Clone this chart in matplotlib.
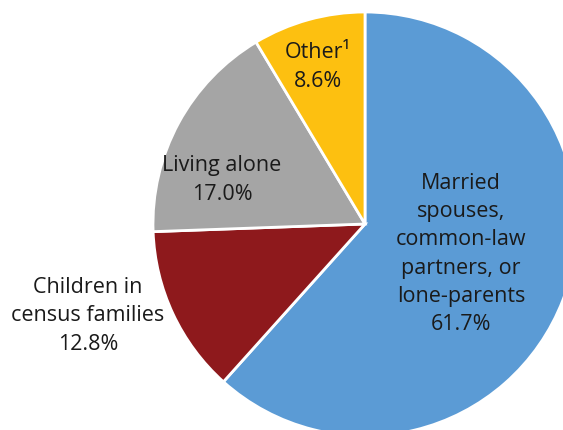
import matplotlib.pyplot as plt

# slice data, clockwise from 12 o'clock
labels = ['Married\nspouses,\ncommon-law\npartners, or\nlone-parents', 'Children in\ncensus families', 'Living alone', 'Other\u00b9']
shares = [61.7, 12.8, 17.0, 8.6]
colors = ['#5B9BD5', '#8E191C', '#A5A5A5', '#FDC010']

plt.rcParams['font.family'] = ['Open Sans', 'DejaVu Sans']

fig = plt.figure(figsize=(5.63, 4.31), dpi=100)
# pie centre at pixel (365, 225), radius 212 px
cx, cy, r = 365, 225, 212
ax = fig.add_axes([(cx - r) / 563, (431 - cy - r) / 431, 2 * r / 563, 2 * r / 431])
ax.pie(shares, colors=colors, startangle=90, counterclock=False, radius=1,
       wedgeprops=dict(edgecolor='white', linewidth=2))
ax.set_xlim(-1, 1)
ax.set_ylim(-1, 1)
ax.set_aspect('equal')
ax.axis('off')

# label positions in pixels of the figure
label_px = [(461, 254), (88, 316), (222, 180), (318, 67)]
for lab, val, (px, py) in zip(labels, shares, label_px):
    ax.text((px - cx) / r, (cy - py) / r, f'{lab}\n{val:.1f}%',
            ha='center', va='center', fontsize=15.5, color='#1a1a1a',
            linespacing=1.45, clip_on=False)

fig.savefig('out.png', dpi=100)
